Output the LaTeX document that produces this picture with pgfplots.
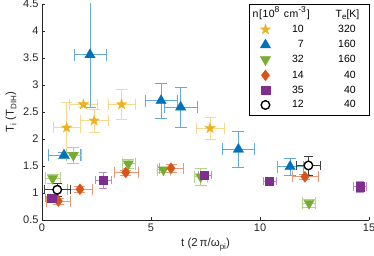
\documentclass[border=0pt]{standalone}
\usepackage{pgfplots}
\pgfplotsset{compat=1.18}
\usepackage{fontspec}
\setmainfont{Liberation Sans}
\definecolor{myY}{rgb}{0.929,0.694,0.125}
\definecolor{myB}{rgb}{0,0.447,0.741}
\definecolor{myG}{rgb}{0.466,0.674,0.188}
\definecolor{myO}{rgb}{0.85,0.325,0.098}
\definecolor{myP}{rgb}{0.494,0.184,0.556}
\definecolor{axc}{rgb}{0.15,0.15,0.15}
\pgfdeclareplotmark{pentagram}{%
  \pgfpathmoveto{\pgfqpointpolar{90}{\pgfplotmarksize}}%
  \pgfpathlineto{\pgfqpointpolar{126}{0.382\pgfplotmarksize}}%
  \pgfpathlineto{\pgfqpointpolar{162}{\pgfplotmarksize}}%
  \pgfpathlineto{\pgfqpointpolar{198}{0.382\pgfplotmarksize}}%
  \pgfpathlineto{\pgfqpointpolar{234}{\pgfplotmarksize}}%
  \pgfpathlineto{\pgfqpointpolar{270}{0.382\pgfplotmarksize}}%
  \pgfpathlineto{\pgfqpointpolar{306}{\pgfplotmarksize}}%
  \pgfpathlineto{\pgfqpointpolar{342}{0.382\pgfplotmarksize}}%
  \pgfpathlineto{\pgfqpointpolar{18}{\pgfplotmarksize}}%
  \pgfpathlineto{\pgfqpointpolar{54}{0.382\pgfplotmarksize}}%
  \pgfpathclose
  \pgfusepathqfillstroke
}
\newcommand{\sups}[1]{\raisebox{0.42em}{\fontsize{8.5bp}{8.5bp}\selectfont #1}}
\newcommand{\subs}[1]{\raisebox{-0.22em}{\fontsize{8bp}{8bp}\selectfont #1}}
\newcommand{\lrow}[2]{\makebox[33bp][r]{#1}\makebox[52bp][r]{#2}\hspace{14bp}\mbox{}}
\pgfplotstableread{
x y ex ey
1.13 2.21 0.61 0.47
1.90 2.64 0.63 0.05
2.39 2.34 0.63 0.21
3.65 2.64 0.63 0.28
7.71 2.20 0.63 0.20
}\dstars
\pgfplotstableread{
x y ex ey
2.20 3.56 0.74 0.97
5.46 2.71 0.73 0.32
6.36 2.59 0.74 0.37
9.01 1.81 0.73 0.34
11.38 1.49 0.60 0.16
1.01 1.70 0.73 0.05
}\dtup
\pgfplotstableread{
x y ex ey
1.44 1.70 0.34 0.14
0.49 1.27 0.34 0.08
3.96 1.54 0.30 0.08
5.57 1.43 0.30 0.05
7.28 1.30 0.30 0.16
12.25 0.81 0.30 0.08
}\dtdown
\pgfplotstableread{
x y ex ey
0.75 0.85 0.55 0.05
1.74 1.07 0.57 0.05
3.84 1.38 0.55 0.05
5.92 1.46 0.55 0.07
12.06 1.30 0.60 0.05
}\ddiam
\pgfplotstableread{
x y ex ey
0.44 0.91 0.30 0.05
2.81 1.24 0.35 0.15
7.45 1.33 0.30 0.08
10.43 1.22 0.30 0.05
14.59 1.12 0.30 0.10
}\dsqu
\pgfplotstableread{
x y ex ey
0.70 1.06 0.59 0.12
12.22 1.51 0.55 0.18
}\dcirc
\begin{document}
\begin{tikzpicture}
\begin{axis}[
  at={(0,0)}, anchor=south west,
  scale only axis, width=327bp, height=216bp,
  xmin=0, xmax=15, ymin=0.5, ymax=4.5,
  axis x line*=bottom, axis y line*=left,
  axis line style={draw=axc, -},
  xtick={0,5,10,15}, ytick={0.5,1,1.5,2,2.5,3,3.5,4,4.5},
  tick align=inside, major tick length=3bp,
  tick style={draw=axc},
  /pgf/number format/assume math mode=true,
  tick label style={font=\fontsize{11bp}{13bp}\selectfont, text=axc},
  label style={font=\fontsize{11.5bp}{14bp}\selectfont, text=axc},
  xlabel={t (2\,π/ω\subs{pi})},
  ylabel={T\subs{i} (T\subs{DIH})},
  error bars/x dir=both, error bars/y dir=both,
  error bars/x explicit, error bars/y explicit,
  legend image code/.code={%
    \path (-16bp,0bp) (4bp,0bp);
    \draw[mark repeat=2,mark phase=2,#1] plot coordinates {(-1bp,0bp) (0bp,0bp) (1bp,0bp)};},
  legend style={at={(1.003,1)}, anchor=north east, draw=black, line width=0.6pt, fill=white,
    font=\fontsize{10.5bp}{12.5bp}\selectfont, inner xsep=0bp, inner ysep=5bp,
    row sep=4.2bp, column sep=0pt,
    nodes={inner sep=0pt, text height=8bp, text depth=2.5bp}},
  legend cell align=left,
]
\addlegendimage{empty legend}
\addlegendentry{\hspace*{-18bp}\makebox[83bp][l]{n\kern0.6bp[\kern0.6bp 1\kern0.4bp 0\sups{8}\hspace{4.5bp}c\kern0.4bp m\sups{-3}\kern1bp]}T\subs{e}[K]}
\addplot[only marks, mark=pentagram, mark size=5.5bp, mark options={draw=myY, fill=myY, line width=0.3pt},
  error bars/error bar style={myY!50!white, line width=0.8pt}]
  table[x=x, y=y, x error=ex, y error=ey]{\dstars};
\addlegendentry{\lrow{10}{320}}
\addplot[only marks, mark=triangle*, mark size=6bp, mark options={draw=myB, fill=myB, line width=0.3pt},
  error bars/error bar style={myB!60!white, line width=0.8pt}]
  table[x=x, y=y, x error=ex, y error=ey]{\dtup};
\addlegendentry{\lrow{7}{160}}
\addplot[only marks, mark=triangle*, mark size=6bp, mark options={rotate=180, draw=myG, fill=myG, line width=0.3pt},
  error bars/error bar style={myG!55!white, line width=0.8pt}]
  table[x=x, y=y, x error=ex, y error=ey]{\dtdown};
\addlegendentry{\lrow{32}{160}}
\addplot[only marks, mark=diamond*, mark size=5.5bp, mark options={draw=myO, fill=myO, line width=0.3pt},
  error bars/error bar style={myO!60!white, line width=0.8pt}]
  table[x=x, y=y, x error=ex, y error=ey]{\ddiam};
\addlegendentry{\lrow{14}{40}}
\addplot[only marks, mark=square*, mark size=4.2bp, mark options={draw=myP, fill=myP, line width=0.3pt},
  error bars/error bar style={myP!55!white, line width=0.8pt}]
  table[x=x, y=y, x error=ex, y error=ey]{\dsqu};
\addlegendentry{\lrow{35}{40}}
\addplot[only marks, mark=*, mark size=4.3bp, mark options={draw=black, fill=white, line width=1.4pt},
  error bars/error bar style={black!75, line width=0.8pt}]
  table[x=x, y=y, x error=ex, y error=ey]{\dcirc};
\addlegendentry{\lrow{12}{40}}
\end{axis}
\pgfresetboundingbox
\useasboundingbox (-42bp,-36bp) rectangle (332bp,220bp);
\end{tikzpicture}
\end{document}
